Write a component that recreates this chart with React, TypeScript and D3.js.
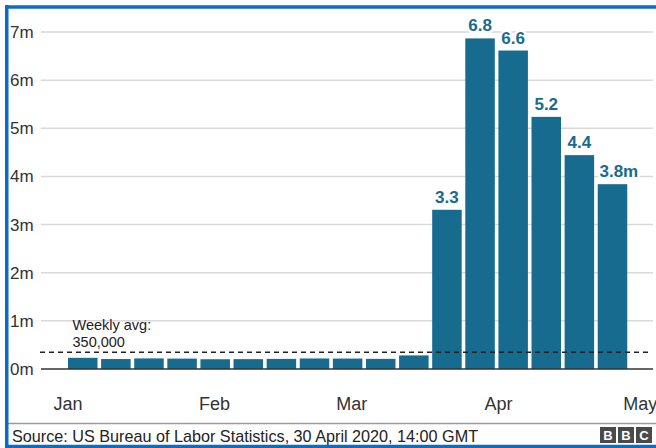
import React from "react";
import * as d3 from "d3";

const weekEnding = [
  "2020-01-04", "2020-01-11", "2020-01-18", "2020-01-25",
  "2020-02-01", "2020-02-08", "2020-02-15", "2020-02-22", "2020-02-29",
  "2020-03-07", "2020-03-14", "2020-03-21", "2020-03-28",
  "2020-04-04", "2020-04-11", "2020-04-18", "2020-04-25",
];
const claimsMillions = [
  0.232, 0.207, 0.22, 0.216, 0.203, 0.205, 0.21, 0.219, 0.217,
  0.211, 0.282, 3.307, 6.867, 6.615, 5.237, 4.442, 3.839,
];
const barLabels = ["", "", "", "", "", "", "", "", "", "", "", "3.3", "6.8", "6.6", "5.2", "4.4", "3.8"];
const yTicks = [0, 1, 2, 3, 4, 5, 6, 7];
const yTickLabels = ["0m", "1m", "2m", "3m", "4m", "5m", "6m", "7m"];
const monthTicks = ["2020-01-01", "2020-02-01", "2020-03-01", "2020-04-01", "2020-05-01"];
const monthLabels = ["Jan", "Feb", "Mar", "Apr", "May"];
const weeklyAvg = 0.35;
const avgLabel = ["Weekly avg:", "350,000"];
const sourceText = "Source: US Bureau of Labor Statistics, 30 April 2020, 14:00 GMT";

const FONT = "'Liberation Sans', Arial, Helvetica, sans-serif";
const BAR = "#176b8e";
const DAY = 86400000;

export default function App() {
  const W = 656, H = 448;
  const parse = (s: string) => new Date(s + "T00:00:00Z");
  const x = d3.scaleUtc()
    .domain([parse("2020-01-01"), parse("2020-05-01")])
    .range([68, 640.3]);
  const y = d3.scaleLinear().domain([0, 7]).range([369, 32]);
  const gridX0 = 41, gridX1 = 653;
  const weekW = x(new Date(parse("2020-01-08"))) - x(parse("2020-01-01"));
  const barW = weekW - 3.6;

  return (
    <svg width={W} height={H} style={{ position: "absolute", left: 0, top: 0, background: "#fff" }} fontFamily={FONT}>
      <rect x={0} y={0} width={W} height={H} fill="#fff" />
      {yTicks.filter((t) => t > 0).map((t) => (
        <line key={t} x1={gridX0} x2={gridX1} y1={y(t)} y2={y(t)} stroke="#d9d9d9" strokeWidth={1.5} />
      ))}
      {yTicks.map((t, i) => (
        <text key={"yl" + t} x={10} y={y(t)} dy="0.35em" fontSize={17} fill="#333">{yTickLabels[i]}</text>
      ))}
      {claimsMillions.map((v, i) => {
        const d = parse(weekEnding[i]);
        const x0 = x(new Date(d.getTime() - 3 * DAY));
        return <rect key={i} x={x0} y={y(v)} width={barW} height={y(0) - y(v)} fill={BAR} />;
      })}
      <line x1={gridX0} x2={gridX1} y1={y(0)} y2={y(0)} stroke="#333" strokeWidth={1.6} />
      <line x1={40} x2={652} y1={y(weeklyAvg)} y2={y(weeklyAvg)} stroke="#222" strokeWidth={1.5} strokeDasharray="5,4" />
      <text x={72.5} y={330} fontSize={14.5} fill="#222">{avgLabel[0]}</text>
      <text x={72.5} y={346.5} fontSize={14.5} fill="#222">{avgLabel[1]}</text>
      {claimsMillions.map((v, i) => {
        if (!barLabels[i]) return null;
        const d = parse(weekEnding[i]);
        const cx = x(new Date(d.getTime() - 3 * DAY)) + barW / 2;
        const last = i === claimsMillions.length - 1;
        return (
          <text key={"vl" + i} x={last ? cx - 13 : cx} y={y(v) - 7} textAnchor={last ? "start" : "middle"}
            fontSize={17} fontWeight="bold" fill={BAR}
            stroke="#fff" strokeWidth={5} paintOrder="stroke" strokeLinejoin="round">
            {barLabels[i] + (last ? "m" : "")}
          </text>
        );
      })}
      {monthTicks.map((m, i) => (
        <text key={m} x={x(parse(m))} y={410} textAnchor="middle" fontSize={18} fill="#333">{monthLabels[i]}</text>
      ))}
      <line x1={7} x2={W} y1={423.5} y2={423.5} stroke="#9a9a9a" strokeWidth={1.5} />
      <text x={12} y={441.5} fontSize={16.2} fill="#222">{sourceText}</text>
      {["B", "B", "C"].map((c, i) => (
        <g key={"bbc" + i}>
          <rect x={600 + i * 18} y={427} width={16} height={16} fill="#4a4a4a" />
          <text x={608 + i * 18} y={440} textAnchor="middle" fontSize={13} fontWeight="bold" fill="#fff">{c}</text>
        </g>
      ))}
      <line x1={5} x2={W} y1={7} y2={7} stroke="#0b6cc4" strokeWidth={3.5} />
      <line x1={6.75} x2={6.75} y1={5} y2={H} stroke="#0b6cc4" strokeWidth={3.5} />
      <line x1={5} x2={W} y1={446.5} y2={446.5} stroke="#0b6cc4" strokeWidth={3.5} />
    </svg>
  );
}
